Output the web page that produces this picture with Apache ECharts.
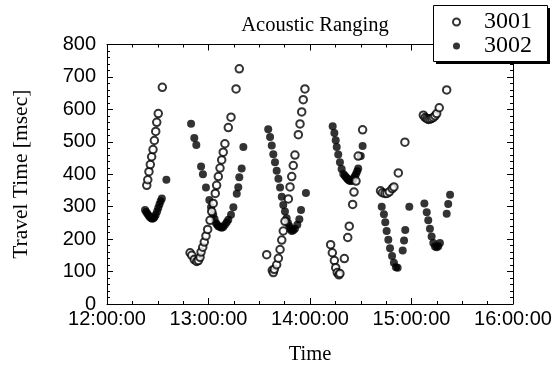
<!DOCTYPE html>
<html>
<head>
<meta charset="utf-8">
<script src="https://cdn.jsdelivr.net/npm/echarts@6/dist/echarts.min.js"></script>
<style>
  html, body { margin: 0; padding: 0; background: #fff; }
  #main { width: 558px; height: 370px; }
</style>
</head>
<body>
<div id="main"></div>
<script>
// minutes after 12:00:00
var t3001 = [23.5, 24.1, 24.8, 25.6, 26.4, 27.2, 28.0, 28.8, 29.4, 30.3, 32.7,
  49.1, 50.1, 51.6, 53.0, 54.0, 55.0, 55.6, 56.6, 57.5, 58.5, 59.5, 60.9, 61.9, 62.8, 64.0, 64.8, 65.8, 66.8, 67.8, 68.7, 69.7, 71.7, 73.3, 76.3, 78.2,
  94.4, 97.7, 98.3, 98.9, 100.3, 101.3, 102.3, 103.3, 104.2, 105.2, 107.2, 108.2, 109.2, 110.1, 111.1, 113.1, 114.1, 115.1, 116.0, 117.0,
  132.2, 133.2, 134.4, 135.2, 136.1, 137.1, 137.7, 140.3, 142.3, 143.2, 145.2, 146.0, 147.2, 148.5, 151.1,
  161.7, 162.8, 164.3, 165.5, 166.9, 168.6, 169.6, 172.2, 176.1,
  187.0, 188.0, 189.0, 189.9, 190.9, 191.9, 192.9, 193.9, 194.9, 196.4, 200.8];
var v3001 = [366, 383, 408, 430, 454, 476, 504, 532, 560, 587, 668,
  158, 150, 137, 131, 134, 144, 160, 175, 191, 210, 230, 258, 285, 310, 341, 366, 393, 419, 444, 468, 494, 544, 576, 663, 725,
  152, 104, 97, 107, 121, 141, 168, 197, 225, 255, 324, 361, 393, 427, 459, 522, 555, 592, 630, 663,
  183, 158, 134, 112, 97, 90, 94, 140, 205, 240, 307, 345, 379, 456, 537,
  349, 343, 341, 341, 346, 356, 361, 404, 499,
  582, 575, 572, 569, 570, 572, 575, 580, 587, 605, 660];

var t3002 = [22.5, 23.2, 23.9, 24.6, 25.3, 26.0, 26.7, 27.4, 28.1, 28.8, 29.6, 30.3, 31.0, 31.7, 32.4, 35.1,
  49.7, 51.6, 52.8, 55.6, 56.7, 58.5, 60.5, 61.5, 62.8, 63.6, 64.4, 65.1, 65.8, 66.8, 67.8, 68.7, 69.7, 70.8, 71.7, 73.3, 74.7, 76.7, 77.6, 78.2, 79.6, 80.6,
  95.3, 96.4, 97.4, 98.3, 99.3, 100.3, 101.3, 102.3, 103.3, 104.2, 105.2, 106.2, 107.0, 107.8, 108.5, 109.2, 110.1, 111.1, 112.5, 113.7, 114.7, 117.6,
  133.4, 134.4, 135.2, 135.8, 136.7, 137.7, 138.7, 139.7, 140.6, 141.3, 142.0, 142.6, 143.4, 144.2, 145.0, 145.6, 146.4, 147.2, 147.9, 148.5, 150.0, 151.1,
  162.4, 163.7, 164.5, 165.3, 166.3, 167.3, 168.5, 169.6, 170.8, 171.8, 174.8, 175.6, 176.3, 178.7,
  187.6, 189.0, 189.9, 190.9, 191.9, 192.9, 193.9, 194.9, 195.8, 196.8, 200.8, 201.7, 202.8];
var v3002 = [290, 284, 278, 273, 268, 265, 263, 264, 268, 275, 285, 296, 307, 317, 325, 383,
  556, 512, 490, 424, 400, 359, 321, 298, 275, 262, 250, 244, 240, 237, 235, 237, 244, 252, 260, 275, 298, 340, 360, 391, 418, 484,
  539, 515, 489, 462, 437, 411, 386, 359, 331, 305, 285, 264, 250, 240, 231, 225, 227, 232, 244, 261, 290, 342,
  548, 527, 505, 484, 461, 437, 416, 401, 395, 391, 387, 383, 380, 379, 381, 386, 393, 401, 409, 418, 456, 487,
  300, 277, 252, 225, 198, 172, 148, 127, 113, 112, 165, 196, 228, 300,
  310, 283, 258, 232, 208, 188, 177, 175, 178, 188, 278, 308, 337];

var timeLabels = ['12:00:00', '13:00:00', '14:00:00', '15:00:00', '16:00:00'];

var serif = 'Liberation Serif';
var sans = 'Liberation Sans';
var ink = '#000';

function pairs(t, v) {
  return t.map(function (x, i) { return [x, v[i]]; });
}

var tickStyle = { show: true, inside: true, length: 6, lineStyle: { color: ink, width: 1 } };
var minorStyle = { show: true, length: 3, lineStyle: { color: ink, width: 1 } };
var lineStyle = { show: true, onZero: false, lineStyle: { color: ink, width: 1 } };

var myChart = echarts.init(document.getElementById('main'));
myChart.setOption({
  animation: false,
  backgroundColor: '#fff',
  title: {
    text: 'Acoustic Ranging',
    left: 310,
    textAlign: 'center',
    top: 10,
    textStyle: { fontFamily: serif, fontSize: 20.5, fontWeight: 'normal', color: ink }
  },
  // legend frame with a hard drop shadow
  graphic: [
    { type: 'rect', z: 5, silent: true, shape: { x: 436, y: 8, width: 114, height: 56 }, style: { fill: ink } },
    { type: 'rect', z: 6, silent: true, shape: { x: 433.5, y: 5.5, width: 114, height: 56 }, style: { fill: '#fff', stroke: ink, lineWidth: 1 } }
  ],
  legend: {
    orient: 'vertical',
    left: 452,
    top: 10,
    z: 10,
    padding: 0,
    itemGap: 0,
    itemWidth: 7,
    itemHeight: 7,
    textStyle: { fontFamily: serif, fontSize: 24, lineHeight: 23, color: ink, padding: [0, 0, 0, 19] },
    data: ['3001', '3002']
  },
  grid: { left: 107, right: 45, top: 44.5, bottom: 60.5 },
  xAxis: [{
    type: 'value',
    min: 0,
    max: 240,
    interval: 60,
    name: 'Time',
    nameLocation: 'middle',
    nameGap: 40,
    nameTextStyle: { fontFamily: serif, fontSize: 20.5, color: ink },
    axisLine: lineStyle,
    axisTick: tickStyle,
    minorTick: Object.assign({ splitNumber: 4 }, minorStyle),
    splitLine: { show: false },
    axisLabel: {
      margin: 5,
      fontFamily: sans,
      fontSize: 20,
      color: ink,
      formatter: function (v) { return timeLabels[Math.round(v / 60)]; }
    }
  }, {
    type: 'value',
    position: 'top',
    min: 0,
    max: 240,
    interval: 60,
    axisLine: lineStyle,
    axisTick: tickStyle,
    minorTick: Object.assign({ splitNumber: 4 }, minorStyle),
    splitLine: { show: false },
    axisLabel: { show: false }
  }],
  yAxis: [{
    type: 'value',
    min: 0,
    max: 800,
    interval: 100,
    name: 'Travel Time [msec]',
    nameLocation: 'middle',
    nameGap: 75,
    nameTextStyle: { fontFamily: serif, fontSize: 21.5, color: ink },
    axisLine: lineStyle,
    axisTick: tickStyle,
    minorTick: Object.assign({ splitNumber: 5 }, minorStyle),
    splitLine: { show: false },
    axisLabel: { margin: 11, fontFamily: sans, fontSize: 20, color: ink }
  }, {
    type: 'value',
    position: 'right',
    min: 0,
    max: 800,
    interval: 100,
    axisLine: lineStyle,
    axisTick: tickStyle,
    minorTick: Object.assign({ splitNumber: 5 }, minorStyle),
    splitLine: { show: false },
    axisLabel: { show: false }
  }],
  series: [
    {
      name: '3002',
      type: 'scatter',
      symbol: 'circle',
      symbolSize: 8,
      itemStyle: { color: ink },
      z: 2,
      data: pairs(t3002, v3002)
    },
    {
      name: '3001',
      type: 'scatter',
      symbol: 'emptyCircle',
      symbolSize: 7.5,
      itemStyle: { color: ink, borderColor: ink, borderWidth: 0.8 },
      z: 3,
      data: pairs(t3001, v3001)
    }
  ]
});
</script>
</body>
</html>
